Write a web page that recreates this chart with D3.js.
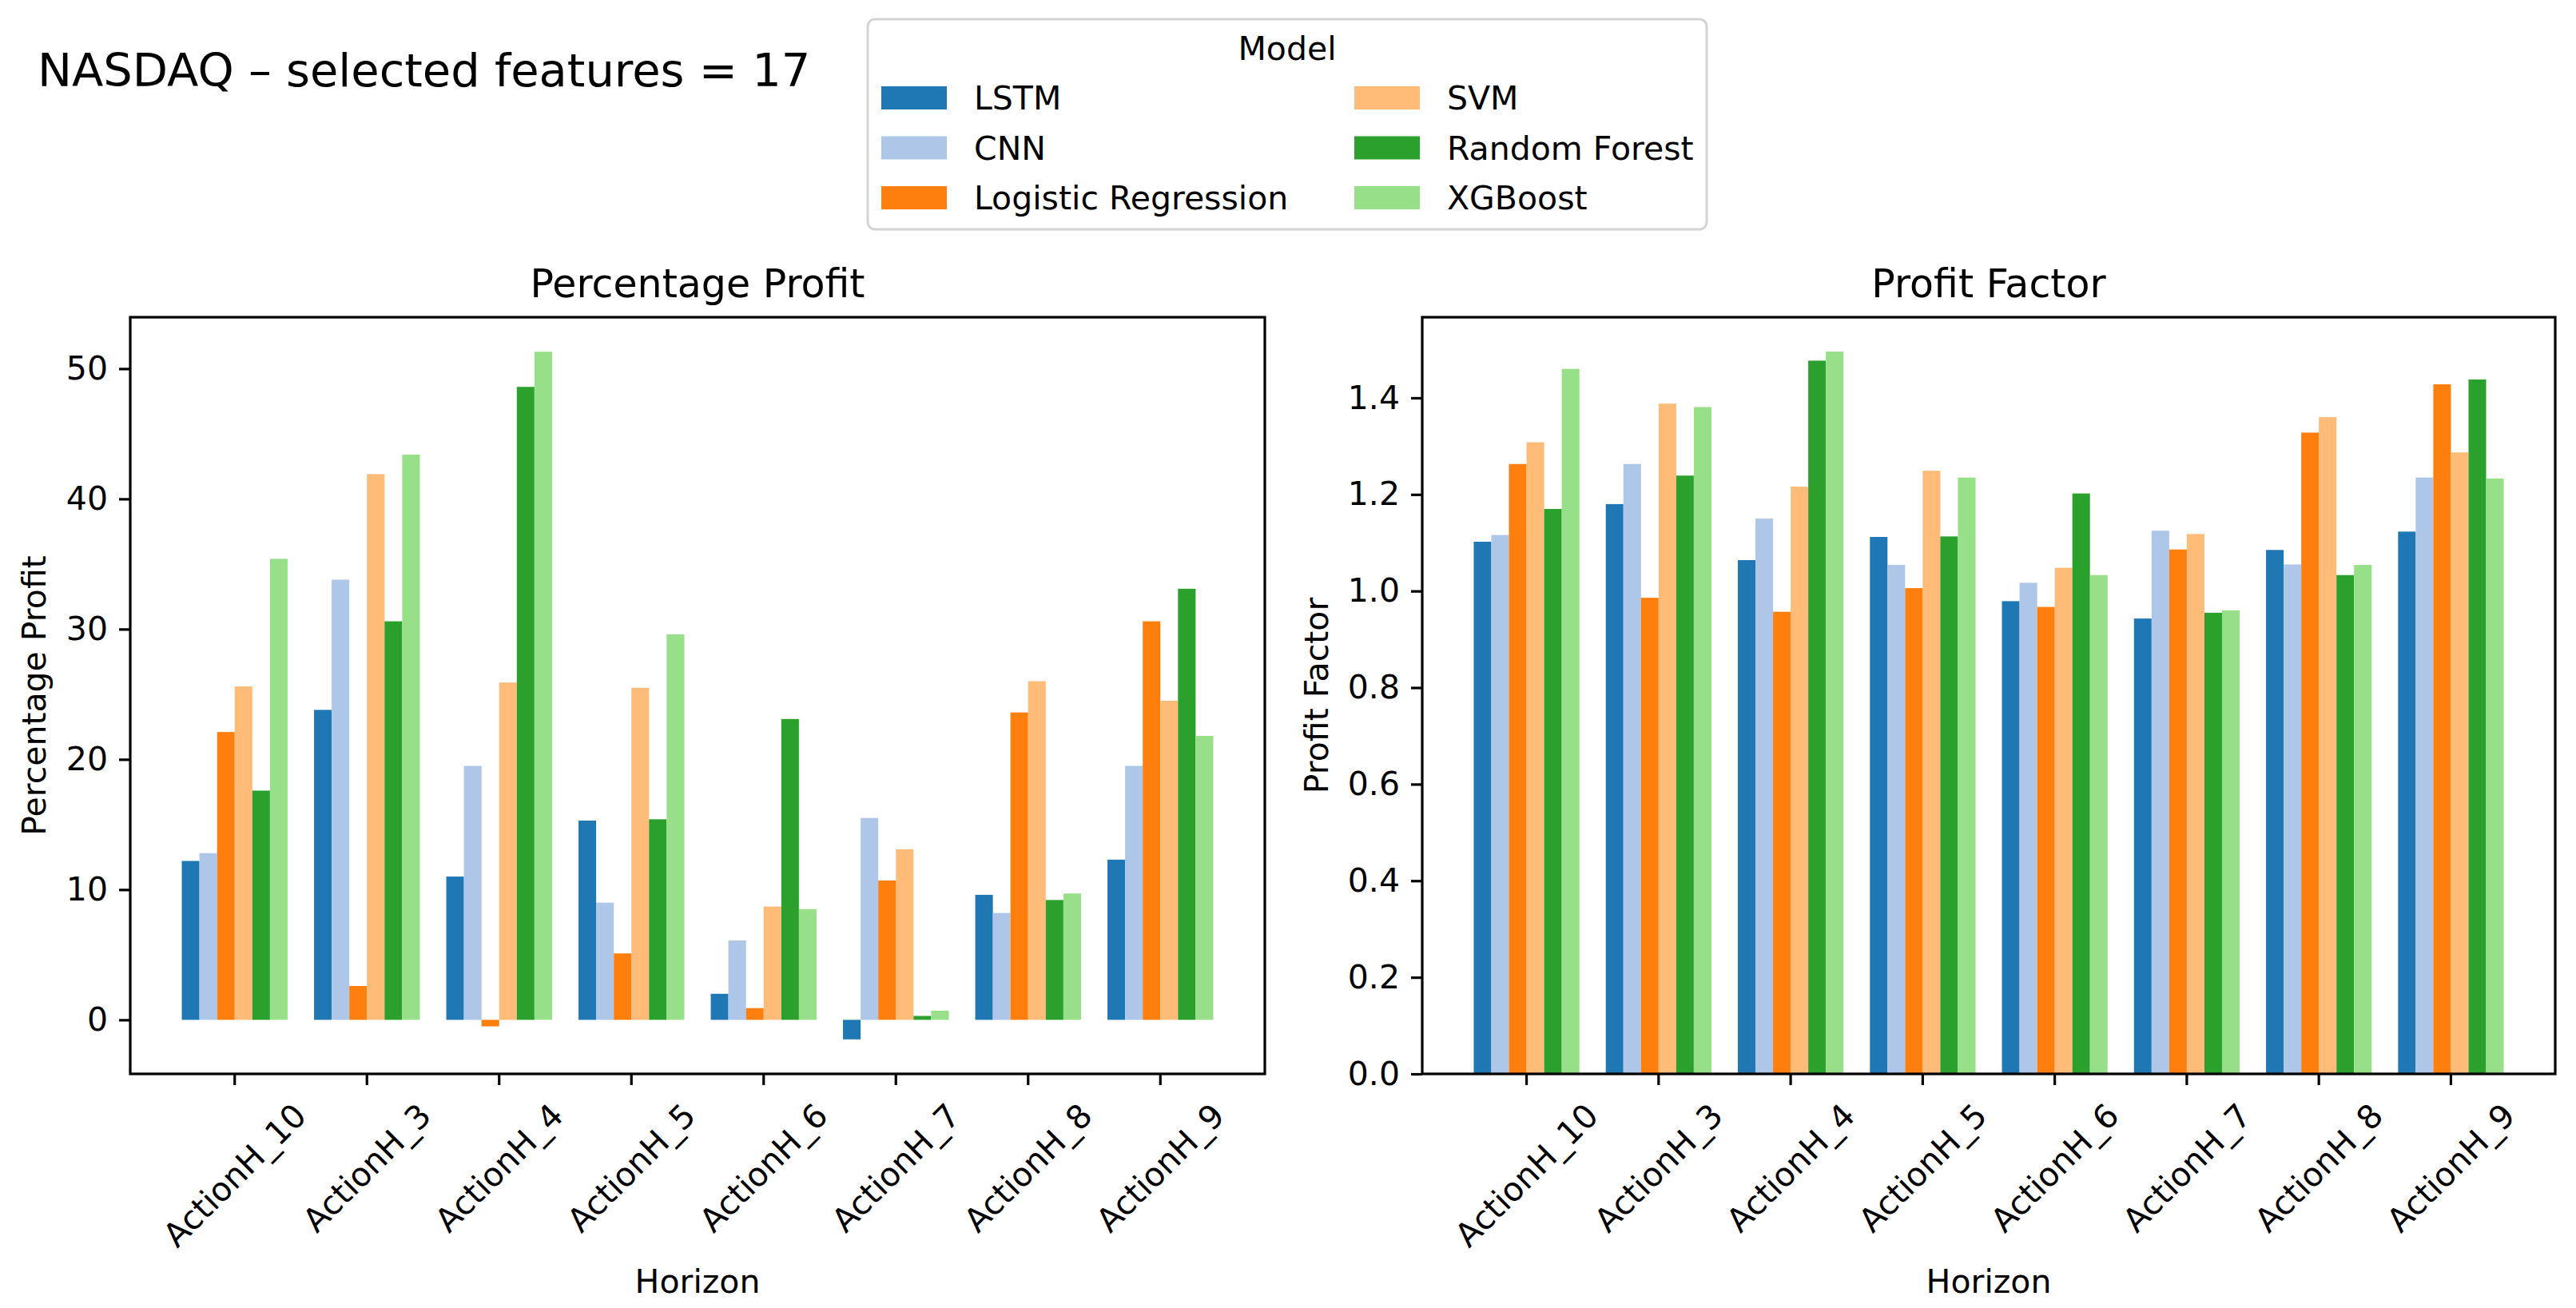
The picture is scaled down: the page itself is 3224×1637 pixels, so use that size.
<!DOCTYPE html>
<html>
<head>
<meta charset="utf-8">
<script src="https://cdn.jsdelivr.net/npm/d3@7"></script>
<style>
  body { margin: 0; background: #fff; }
  text { font-family: "DejaVu Sans", sans-serif; fill: #000; }
</style>
</head>
<body>
<div id="chart"></div>
<script>
// categories and models
const horizons = ["ActionH_10", "ActionH_3", "ActionH_4", "ActionH_5", "ActionH_6", "ActionH_7", "ActionH_8", "ActionH_9"];
const models = ["LSTM", "CNN", "Logistic Regression", "SVM", "Random Forest", "XGBoost"];
const modelColors = ["#1f77b4", "#aec7e8", "#ff7f0e", "#ffbb78", "#2ca02c", "#98df8a"];

// Percentage Profit
const ppLSTM   = [12.2, 23.8, 11.0, 15.3, 2.0, -1.5, 9.6, 12.3];
const ppCNN    = [12.8, 33.8, 19.5, 9.0, 6.1, 15.5, 8.2, 19.5];
const ppLogReg = [22.1, 2.6, -0.5, 5.1, 0.9, 10.7, 23.6, 30.6];
const ppSVM    = [25.6, 41.9, 25.9, 25.5, 8.7, 13.1, 26.0, 24.5];
const ppRF     = [17.6, 30.6, 48.6, 15.4, 23.1, 0.3, 9.2, 33.1];
const ppXGB    = [35.4, 43.4, 51.3, 29.6, 8.5, 0.7, 9.7, 21.8];

// Profit Factor
const pfLSTM   = [1.102, 1.180, 1.064, 1.112, 0.979, 0.943, 1.085, 1.123];
const pfCNN    = [1.116, 1.263, 1.150, 1.054, 1.017, 1.125, 1.055, 1.235];
const pfLogReg = [1.263, 0.986, 0.957, 1.006, 0.967, 1.086, 1.328, 1.428];
const pfSVM    = [1.308, 1.388, 1.216, 1.249, 1.048, 1.118, 1.360, 1.287];
const pfRF     = [1.170, 1.239, 1.477, 1.113, 1.202, 0.955, 1.033, 1.438];
const pfXGB    = [1.460, 1.381, 1.496, 1.235, 1.033, 0.960, 1.054, 1.233];

// tick labels
const ppTicks = [0, 10, 20, 30, 40, 50];
const pfTicks = [0, 0.2, 0.4, 0.6, 0.8, 1.0, 1.2, 1.4];

const W = 3224, H = 1637;
const plotTop = 397, plotBottom = 1344;
const fs = 41; // base font size (10pt)

const svg = d3.select("#chart").append("svg")
  .attr("width", W).attr("height", H)
  .attr("viewBox", `0 0 ${W} ${H}`);

svg.append("rect").attr("width", W).attr("height", H).attr("fill", "#fff");

// super title
svg.append("text")
  .attr("x", 47).attr("y", 108)
  .attr("font-size", 57.5)
  .text("NASDAQ \u2013 selected features = 17");

const panels = [
  {
    title: "Percentage Profit", ylabel: "Percentage Profit",
    series: [ppLSTM, ppCNN, ppLogReg, ppSVM, ppRF, ppXGB],
    domain: [-4.15, 53.95], ticks: ppTicks, fmt: d3.format("d"),
    left: 163, right: 1583, ylabelX: 57
  },
  {
    title: "Profit Factor", ylabel: "Profit Factor",
    series: [pfLSTM, pfCNN, pfLogReg, pfSVM, pfRF, pfXGB],
    domain: [0, 1.567], ticks: pfTicks, fmt: d3.format(".1f"),
    left: 1780, right: 3198, ylabelX: 1662
  }
];

panels.forEach(p => {
  const x = d3.scaleBand()
    .domain(horizons)
    .range([p.left, p.right])
    .paddingInner(0.2)
    .paddingOuter(0.39);

  const xSub = d3.scaleBand()
    .domain(models)
    .range([0, x.bandwidth()]);

  const y = d3.scaleLinear()
    .domain(p.domain)
    .range([plotBottom, plotTop]);

  const g = svg.append("g");

  // bars
  models.forEach((m, mi) => {
    g.append("g")
      .attr("fill", modelColors[mi])
      .selectAll("rect")
      .data(p.series[mi])
      .enter().append("rect")
      .attr("x", (d, i) => x(horizons[i]) + xSub(m))
      .attr("width", xSub.bandwidth())
      .attr("y", d => y(Math.max(0, d)))
      .attr("height", d => Math.abs(y(d) - y(0)));
  });

  // y axis
  const yAxis = g.append("g")
    .attr("transform", `translate(${p.left},0)`)
    .call(d3.axisLeft(y).tickValues(p.ticks).tickFormat(p.fmt).tickSize(14).tickPadding(14));
  yAxis.select(".domain").remove();
  yAxis.selectAll(".tick line").attr("stroke", "#000").attr("stroke-width", 3.2);
  yAxis.selectAll(".tick text").attr("font-size", fs).attr("font-family", "DejaVu Sans").attr("fill", "#000");

  // x axis
  const xAxis = g.append("g")
    .attr("transform", `translate(0,${plotBottom})`)
    .call(d3.axisBottom(x).tickSize(14).tickPadding(14));
  xAxis.select(".domain").remove();
  xAxis.selectAll(".tick line").attr("stroke", "#000").attr("stroke-width", 3.2);
  xAxis.selectAll(".tick text")
    .attr("font-size", fs).attr("font-family", "DejaVu Sans").attr("fill", "#000")
    .attr("text-anchor", "middle")
    .attr("y", 0).attr("dy", "0.346em")
    .each(function () {
      const w = this.getComputedTextLength();
      const bh = (w + fs * 1.164) * Math.SQRT1_2;
      d3.select(this).attr("transform", `translate(0,${28 + bh / 2}) rotate(-45)`);
    });

  // spines
  g.append("rect")
    .attr("x", p.left).attr("y", plotTop)
    .attr("width", p.right - p.left).attr("height", plotBottom - plotTop)
    .attr("fill", "none").attr("stroke", "#000").attr("stroke-width", 3.2);

  const cx = (p.left + p.right) / 2;

  // title
  g.append("text")
    .attr("x", cx).attr("y", 372)
    .attr("text-anchor", "middle").attr("font-size", 49)
    .text(p.title);

  // x label
  g.append("text")
    .attr("x", cx).attr("y", 1618)
    .attr("text-anchor", "middle").attr("font-size", fs)
    .text("Horizon");

  // y label
  g.append("text")
    .attr("transform", `translate(${p.ylabelX},${(plotTop + plotBottom) / 2}) rotate(-90)`)
    .attr("text-anchor", "middle").attr("font-size", fs)
    .text(p.ylabel);
});

// legend
const legend = svg.append("g");
legend.append("rect")
  .attr("x", 1086).attr("y", 24)
  .attr("width", 1050).attr("height", 263)
  .attr("rx", 9)
  .attr("fill", "#fff").attr("stroke", "#d4d4d4").attr("stroke-width", 3);

legend.append("text")
  .attr("x", 1611).attr("y", 75)
  .attr("text-anchor", "middle").attr("font-size", fs)
  .text("Model");

const colX = [1103, 1695];
const rowY = [108, 170.5, 233];
models.forEach((m, i) => {
  const col = Math.floor(i / 3), row = i % 3;
  const item = legend.append("g")
    .attr("transform", `translate(${colX[col]},${rowY[row]})`);
  item.append("rect")
    .attr("width", 82).attr("height", 29)
    .attr("fill", modelColors[i]);
  item.append("text")
    .attr("x", 116).attr("y", 29)
    .attr("font-size", fs)
    .text(m);
});
</script>
</body>
</html>
